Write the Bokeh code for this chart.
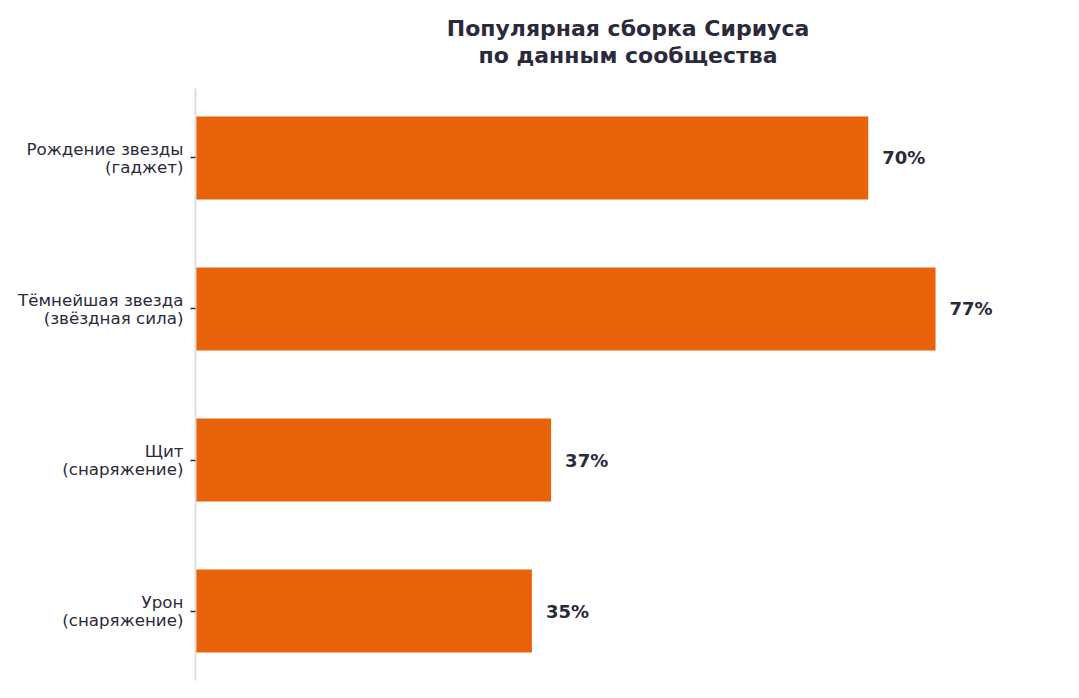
from bokeh.plotting import figure
from bokeh.models import Range1d, FactorRange, ColumnDataSource, LabelSet, Title
from bokeh.core.properties import value
from bokeh.embed import file_html
from bokeh.resources import INLINE

categories = [
    "Рождение звезды\n(гаджет)",
    "Тёмнейшая звезда\n(звёздная сила)",
    "Щит\n(снаряжение)",
    "Урон\n(снаряжение)",
]
values = [70, 77, 37, 35]
value_labels = [f"{v}%" for v in values]
title_lines = ["Популярная сборка Сириуса", "по данным сообщества"]

TEXT = "#2b2a3d"
BAR = "#e8620a"

src = ColumnDataSource(dict(cat=categories, val=values, lab=value_labels))

p = figure(
    width=1063, height=682,
    y_range=FactorRange(factors=list(reversed(categories)),
                        range_padding=-0.04, range_padding_units="absolute"),
    x_range=Range1d(0, 90),
    output_backend="svg", toolbar_location=None,
    min_border_left=195, min_border_right=3, min_border_top=88, min_border_bottom=2,
)

def style_title(t):
    t.align = "center"
    t.text_font = "DejaVu Sans"
    t.text_font_size = "22px"
    t.text_font_style = "bold"
    t.text_color = TEXT

p.title.text = title_lines[0]
style_title(p.title)
p.title.standoff = 0
t2 = Title(text=title_lines[1], padding=dict(left=0, right=0, top=0, bottom=21))
style_title(t2)
t2.standoff = 0
p.add_layout(t2, "above")

p.hbar(y="cat", left=0, right="val", height=0.55, source=src, fill_color=BAR, line_color=None)

labels = LabelSet(x="val", y="cat", text="lab", source=src, x_offset=14,
                  text_baseline="middle", text_align="left",
                  text_font=value("DejaVu Sans"), text_font_size="18px", text_font_style="bold",
                  text_color=TEXT)
p.add_layout(labels)

p.xaxis.visible = False
p.xgrid.visible = False
p.ygrid.visible = False
p.outline_line_color = None

ax = p.yaxis[0]
ax.axis_line_color = "#dddddd"
ax.axis_line_width = 2
ax.major_tick_out = 5
ax.major_tick_in = 0
ax.major_tick_line_color = TEXT
ax.major_tick_line_width = 1.5
ax.minor_tick_line_color = None
ax.major_label_standoff = 7
ax.major_label_text_font = "DejaVu Sans"
ax.major_label_text_font_size = "16.7px"
ax.major_label_text_line_height = 0.92
ax.major_label_text_color = TEXT
ax.major_label_text_align = "right"

open("out.html", "w").write(file_html(p, INLINE))
